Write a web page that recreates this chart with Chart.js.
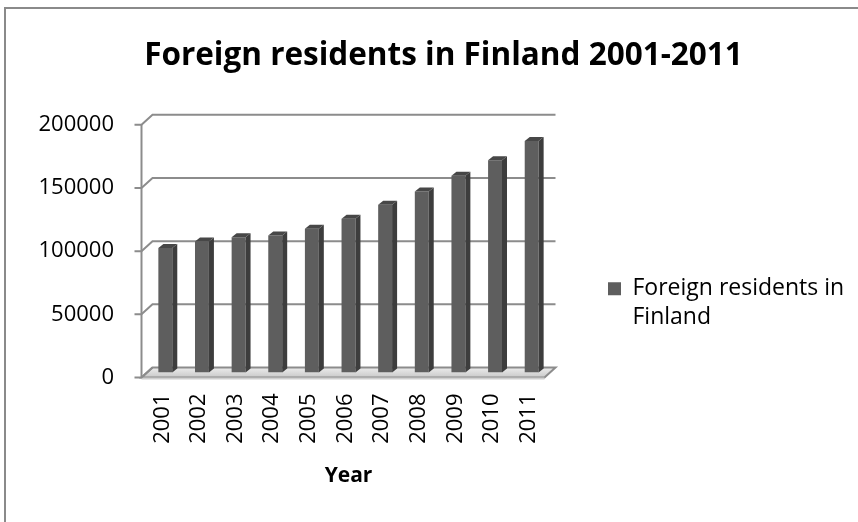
<!DOCTYPE html>
<html>
<head>
<meta charset="utf-8">
<title>Foreign residents in Finland 2001-2011</title>
<script src="https://cdn.jsdelivr.net/npm/chart.js@4/dist/chart.umd.min.js"></script>
<style>
    html, body { margin: 0; padding: 0; background: #fff; overflow: hidden; }
    #residents-chart { display: block; }
</style>
</head>
<body>
<canvas id="residents-chart" width="858" height="522"></canvas>
<script>
// Data
const years = ['2001', '2002', '2003', '2004', '2005', '2006', '2007', '2008', '2009', '2010', '2011']
const residents = [98577, 103682, 107003, 108346, 113852, 121739, 132708, 143256, 155705, 167954, 183133]
const yTicks = [0, 50000, 100000, 150000, 200000]

const seriesName = ['Foreign residents in', 'Finland']
const fontName = '"Open Sans", Lato, sans-serif'

// 3D look: how far the floor/back wall sit from the bar plane
const depthX = 5.5
const depthY = 5
const barDepthX = 5
const barDepthY = 4

// Outer frame (only the top and left edges show in the window)
const framePlugin = {
    id: 'frame',
    beforeDraw: function(chart) {
        const ctx = chart.ctx
        ctx.save()
        ctx.strokeStyle = '#8a8a8a'
        ctx.lineWidth = 2
        ctx.strokeRect(5, 8, chart.width + 20, chart.height + 20)
        ctx.restore()
    }
}

// Back wall gridlines, front axis and floor
const wallPlugin = {
    id: 'wall',
    beforeDatasetsDraw: function(chart) {
        const ctx = chart.ctx
        const y = chart.scales.y
        const area = chart.chartArea
        const fx = area.left - depthX
        const bx = area.left + depthX
        const rx = area.right + depthX
        ctx.save()
        ctx.strokeStyle = '#8c8c8c'
        ctx.lineWidth = 2

        // floor
        const y0 = y.getPixelForValue(0)
        ctx.beginPath()
        ctx.moveTo(fx, y0 + depthY)
        ctx.lineTo(area.right - depthX, y0 + depthY)
        ctx.lineTo(rx, y0 - depthY)
        ctx.lineTo(bx, y0 - depthY)
        ctx.closePath()
        const grad = ctx.createLinearGradient(0, y0 - depthY, 0, y0 + depthY)
        grad.addColorStop(0, '#ececec')
        grad.addColorStop(1, '#c9c9c9')
        ctx.fillStyle = grad
        ctx.fill()
        ctx.stroke()
        ctx.fillStyle = '#cfcfcf'
        ctx.beginPath()
        ctx.moveTo(fx, y0 + depthY)
        ctx.lineTo(area.right - depthX, y0 + depthY)
        ctx.lineTo(area.right - depthX, y0 + depthY + 2)
        ctx.lineTo(fx, y0 + depthY + 2)
        ctx.closePath()
        ctx.fill()

        yTicks.forEach(function(v) {
            const py = y.getPixelForValue(v)
            ctx.beginPath()
            ctx.moveTo(fx - 7, py + depthY)
            ctx.lineTo(fx, py + depthY)
            ctx.lineTo(bx, py - depthY)
            if (v !== 0) {
                ctx.lineTo(rx, py - depthY)
            }
            ctx.stroke()
        })

        // front vertical axis
        ctx.beginPath()
        ctx.moveTo(fx, y.getPixelForValue(yTicks[yTicks.length - 1]) + depthY)
        ctx.lineTo(fx, y0 + depthY)
        ctx.stroke()
        ctx.restore()
    }
}

// Side and top faces of every bar
const barFacePlugin = {
    id: 'barFaces',
    afterDatasetsDraw: function(chart) {
        const ctx = chart.ctx
        const meta = chart.getDatasetMeta(0)
        ctx.save()
        meta.data.forEach(function(bar) {
            const p = bar.getProps(['x', 'y', 'base', 'width'], true)
            const l = p.x - p.width / 2
            const r = p.x + p.width / 2
            // right side
            ctx.fillStyle = '#3d3d3d'
            ctx.beginPath()
            ctx.moveTo(r, p.y)
            ctx.lineTo(r + barDepthX, p.y - barDepthY)
            ctx.lineTo(r + barDepthX, p.base - barDepthY)
            ctx.lineTo(r, p.base)
            ctx.closePath()
            ctx.fill()
            // top
            ctx.fillStyle = '#474747'
            ctx.beginPath()
            ctx.moveTo(l, p.y)
            ctx.lineTo(l + barDepthX, p.y - barDepthY)
            ctx.lineTo(r + barDepthX, p.y - barDepthY)
            ctx.lineTo(r, p.y)
            ctx.closePath()
            ctx.fill()
        })
        ctx.restore()
    }
}

const chartData = {
    labels: years,
    datasets: [{
        label: seriesName.join(' '),
        data: residents,
        backgroundColor: '#5e5e5e',
        borderWidth: 0,
        barPercentage: 0.38,
        categoryPercentage: 1
    }]
}

const config = {
    type: 'bar',
    data: chartData,
    options: {
        responsive: false,
        animation: false,
        devicePixelRatio: 1,
        layout: {
            padding: { top: 10, right: 8, bottom: 8, left: 37 }
        },
        scales: {
            x: {
                afterFit: function(scale) {
                    scale.paddingLeft = 0
                    scale.paddingRight = 0
                },
                grid: {
                    display: true,
                    drawOnChartArea: false,
                    drawTicks: true,
                    tickLength: 21,
                    tickColor: 'rgba(0,0,0,0)'
                },
                border: { display: false },
                ticks: {
                    color: '#000',
                    font: { family: fontName, size: 22 },
                    minRotation: 90,
                    maxRotation: 90,
                    padding: 0,
                    labelOffset: -3
                },
                title: {
                    display: true,
                    text: 'Year',
                    color: '#000',
                    font: { family: fontName, size: 21, weight: 'bold' },
                    padding: { top: 20, bottom: 25 }
                }
            },
            y: {
                min: 0,
                max: 200000,
                afterBuildTicks: function(scale) {
                    scale.ticks = yTicks.map(function(v) { return { value: v } })
                },
                afterFit: function(scale) {
                    scale.width = 110
                },
                grid: { display: false, drawTicks: false },
                border: { display: false },
                ticks: {
                    color: '#000',
                    font: { family: fontName, size: 22 },
                    padding: 33,
                    labelOffset: 5,
                    callback: function(value) {
                        return String(value)
                    }
                }
            }
        },
        plugins: {
            title: {
                display: true,
                text: 'Foreign residents in Finland 2001-2011',
                color: '#000',
                font: { family: fontName, size: 31.5, weight: 'bold' },
                padding: { top: 27, bottom: 45 }
            },
            legend: {
                display: true,
                position: 'right',
                maxWidth: 300,
                title: {
                    display: true,
                    text: '',
                    font: { size: 10 },
                    padding: { top: 76, bottom: 0 }
                },
                labels: {
                    color: '#000',
                    font: { family: fontName, size: 23, lineHeight: 1.25 },
                    boxWidth: 13,
                    boxHeight: 13,
                    padding: 58,
                    generateLabels: function(chart) {
                        return [{
                            text: seriesName,
                            fillStyle: '#5e5e5e',
                            strokeStyle: '#5e5e5e',
                            fontColor: '#000',
                            lineWidth: 0,
                            datasetIndex: 0
                        }]
                    }
                }
            },
            tooltip: { enabled: false }
        }
    },
    plugins: [framePlugin, wallPlugin, barFacePlugin]
}

const residentsChart = new Chart(document.getElementById('residents-chart'), config)
</script>
</body>
</html>
